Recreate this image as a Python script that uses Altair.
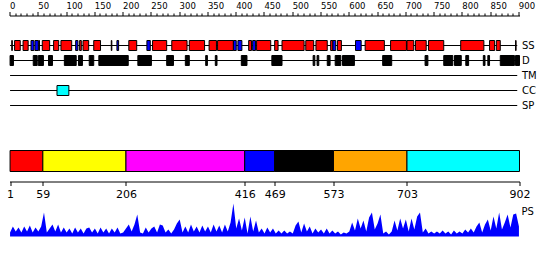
import altair as alt
import pandas as pd

FONT = "DejaVu Sans"

tracks = ["SS", "D", "TM", "CC", "SP"]
line_start = [1, 1, 1, 1, 1]
line_end = [898, 898, 898, 898, 898]

helix_start = [4, 9, 24, 52, 58, 78, 91, 124, 130, 149, 180, 211, 253, 287, 318, 353, 368,
               423, 437, 469, 482, 524, 542, 568, 580, 629, 674, 703, 718, 741, 798, 849, 861, 895]
helix_end = [5, 19, 33, 53, 71, 87, 110, 127, 140, 161, 181, 225, 278, 314, 345, 366, 396,
             428, 462, 475, 521, 538, 562, 572, 587, 663, 702, 715, 737, 768, 839, 858, 868, 896]
strand_start = [38, 45, 117, 190, 243, 396, 404, 430, 572, 612]
strand_end = [43, 51, 121, 193, 249, 401, 411, 435, 577, 622]
cc_start = [84]
cc_end = [105]

dis_start = [1, 42, 51, 69, 97, 122, 141, 158, 227, 278, 311, 347, 364, 410, 464, 537, 544,
             562, 576, 589, 660, 735, 768, 787, 807, 838, 846, 868, 895]
dis_end = [7, 49, 60, 76, 118, 129, 149, 210, 251, 290, 318, 350, 367, 420, 482, 540, 547,
           567, 586, 610, 676, 740, 784, 799, 812, 841, 849, 893, 902]

domain_names = ["d1", "d2", "d3", "d4", "d5", "d6", "d7"]
domain_start = [1, 59, 206, 416, 469, 573, 703]
domain_end = [59, 206, 416, 469, 573, 703, 902]
domain_colors = ["#FF0000", "#FFFF00", "#FF00FF", "#0000FF", "#000000", "#FFA500", "#00FFFF"]
domain_ticks = [1, 59, 206, 416, 469, 573, 703, 902]
ruler_ticks = list(range(0, 901, 10))

ps_pos = list(range(1, 902, 5))
ps_val = [4, 10, 5, 9, 4, 10, 5, 11, 4, 9,
          5, 10, 24, 4, 8, 12, 5, 12, 4, 9,
          4, 8, 3, 9, 4, 8, 3, 8, 9, 4,
          8, 3, 9, 4, 8, 3, 8, 4, 9, 3,
          4, 8, 12, 5, 12, 22, 4, 3, 9, 4,
          8, 10, 4, 12, 11, 4, 7, 3, 7, 13,
          17, 4, 10, 4, 12, 5, 10, 4, 11, 5,
          10, 4, 12, 5, 11, 4, 12, 5, 14, 33,
          8, 18, 6, 19, 3, 20, 5, 16, 4, 8,
          3, 9, 4, 8, 3, 6, 3, 6, 3, 5,
          3, 11, 15, 4, 13, 5, 10, 3, 8, 4,
          7, 3, 8, 3, 6, 3, 5, 2, 4, 3,
          5, 14, 6, 18, 8, 16, 5, 19, 24, 7,
          13, 22, 3, 5, 2, 5, 16, 6, 18, 8,
          17, 5, 18, 7, 20, 24, 4, 8, 3, 5,
          3, 5, 3, 6, 3, 5, 2, 6, 3, 5,
          3, 7, 4, 8, 4, 10, 14, 4, 12, 17,
          6, 20, 8, 24, 7, 14, 22, 9, 22, 23,
          10]
ps_label = ["PS"]
ps_label_pos = [902]
ps_label_val = [25]

W = 510

# ---------- tables ----------
lines_df = pd.DataFrame({"track": tracks, "start": line_start, "end": line_end})
ss_df = pd.concat([
    pd.DataFrame({"track": "SS", "type": "helix", "start": helix_start, "end": helix_end}),
    pd.DataFrame({"track": "SS", "type": "strand", "start": strand_start, "end": strand_end}),
    pd.DataFrame({"track": "CC", "type": "cc", "start": cc_start, "end": cc_end}),
], ignore_index=True)
dis_df = pd.DataFrame({"track": "D", "start": dis_start, "end": dis_end})
dom_df = pd.DataFrame({"name": domain_names, "start": domain_start, "end": domain_end})
ps_df = pd.DataFrame({"pos": ps_pos, "val": ps_val})
ps_lab_df = pd.DataFrame({"pos": ps_label_pos, "val": ps_label_val, "label": ps_label})

xscale = alt.Scale(domain=[0, 902], nice=False, zero=False)

ruler_axis = alt.Axis(
    orient="top", values=ruler_ticks, title=None, grid=False, offset=15,
    labelExpr="datum.value % 50 === 0 ? datum.label : ''",
    tickSize={"condition": {"test": "datum.value % 50 === 0", "value": 4}, "value": 2.5},
    labelAlign="left", labelBaseline="bottom", labelPadding=1,
    labelFont=FONT, labelFontSize=8.5, labelColor="black",
    labelFlush=False, labelOverlap=False,
    domainColor="black", tickColor="black", domainWidth=1, tickWidth=1,
)

track_y = alt.Y(
    "track:N",
    scale=alt.Scale(type="point", domain=tracks, padding=1),
    axis=alt.Axis(orient="right", title=None, ticks=False, domain=False, grid=False,
                  labelPadding=2, labelFont=FONT, labelFontSize=10, labelColor="black"),
)

lines = alt.Chart(lines_df).mark_rule(color="black", strokeWidth=1)
ss_bars = alt.Chart(ss_df).mark_bar(height=10, stroke="black", strokeWidth=1).encode(
    color=alt.Color("type:N",
                    scale=alt.Scale(domain=["helix", "strand", "cc"],
                                    range=["#FF0000", "#0000FF", "#00FFFF"]),
                    legend=None)
)
dis_bars = alt.Chart(dis_df).mark_bar(height=10, color="black", stroke="black", strokeWidth=1)

panel1 = alt.layer(lines, ss_bars, dis_bars).encode(
    x=alt.X("start:Q", scale=xscale, axis=ruler_axis),
    x2="end:Q",
    y=track_y,
).properties(width=W, height=90)

domain_axis = alt.Axis(
    orient="bottom", values=domain_ticks, title=None, grid=False, offset=10,
    tickSize=4, labelPadding=3, labelFont=FONT, labelFontSize=11, labelColor="black",
    labelFlush=False, labelOverlap=False, domainColor="black", tickColor="black",
)
panel2 = alt.Chart(dom_df).mark_rect(stroke="black", strokeWidth=1).encode(
    x=alt.X("start:Q", scale=xscale, axis=domain_axis),
    x2="end:Q",
    color=alt.Color("name:N", scale=alt.Scale(domain=domain_names, range=domain_colors), legend=None),
).properties(width=W, height=21)

ps_y = alt.Scale(domain=[0, 35], nice=False, zero=True)
ps_area = alt.Chart(ps_df).mark_area(color="#0000FF", interpolate="linear").encode(
    x=alt.X("pos:Q", scale=xscale, axis=None),
    y=alt.Y("val:Q", scale=ps_y, axis=None),
)
ps_text = alt.Chart(ps_lab_df).mark_text(align="left", baseline="middle", dx=2,
                                          font=FONT, fontSize=10, color="black").encode(
    x=alt.X("pos:Q", scale=xscale, axis=None),
    y=alt.Y("val:Q", scale=ps_y, axis=None),
    text="label:N",
)
panel3 = alt.layer(ps_area, ps_text).properties(width=W, height=35)

chart = alt.vconcat(panel1, panel2, panel3, spacing=30, bounds="flush").resolve_scale(
    color="independent"
).configure_view(
    stroke=None
).properties(
    padding={"left": 6.5, "top": 1.5, "right": 0, "bottom": 0},
    background="white",
)

chart.save("out.html", embed_options={"renderer": "svg", "actions": False})
